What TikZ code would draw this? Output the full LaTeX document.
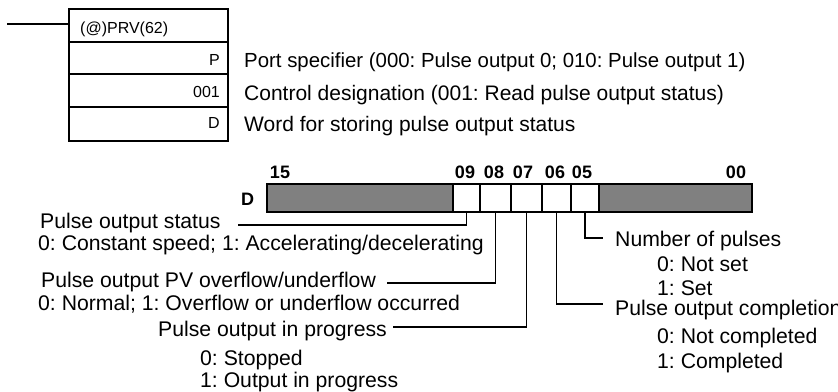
\documentclass[tikz,border=0pt]{standalone}
\usepackage{fontspec}
\setmainfont{Liberation Sans}
\frenchspacing
\begin{document}
\frenchspacing
\begin{tikzpicture}[x=1pt,y=-1pt,
  box/.style={draw, line width=1.6pt, minimum width=159pt, anchor=north west, inner sep=0pt, outer sep=0pt},
  boxlbl/.style={font=\fontsize{16}{19}\selectfont, inner sep=0pt},
  desc/.style={font=\fontsize{21.2}{25}\selectfont, anchor=base west, inner sep=0pt},
  topdesc/.style={desc, font=\fontsize{21}{25}\selectfont},
  bitnum/.style={font=\bfseries\fontsize{18}{21}\selectfont, anchor=base, inner sep=0pt},
  regcell/.style={draw, line width=1.3pt, minimum height=28pt, anchor=north west, inner sep=0pt, outer sep=0pt},
  lead/.style={line width=1.8pt}]
\useasboundingbox (0,0) rectangle (838,391);

% instruction box
\node[box, minimum height=33pt] (r0) at (69,9) {};
\node[box, minimum height=32pt] (r1) at (69,42) {};
\node[box, minimum height=33pt] (r2) at (69,74) {};
\node[box, minimum height=34pt] (r3) at (69,107) {};
\node[boxlbl, anchor=base west] (t0) at (80,33) {(@)PRV(62)};
\node[boxlbl, anchor=base east] (t1) at (220,65) {P};
\node[boxlbl, anchor=base east] (t2) at (220,97) {001};
\node[boxlbl, anchor=base east] (t3) at (220,128) {D};
\coordinate (inl) at (7,24);
\draw[lead] (inl) -- (inl -| r0.west);

\node[topdesc, font=\fontsize{20.4}{25}\selectfont] (d1) at (244,67) {Port specifier (000: Pulse output 0; 010: Pulse output 1)};
\node[topdesc] (d2) at (244,100) {Control designation (001: Read pulse output status)};
\node[topdesc] (d3) at (244,131) {Word for storing pulse output status};

% register
\node[regcell, fill=black!50, minimum width=186pt] (g1) at (267,184) {};
\node[regcell, fill=white, minimum width=27pt] (c09) at (453,184) {};
\node[regcell, fill=white, minimum width=31pt] (c08) at (480,184) {};
\node[regcell, fill=white, minimum width=31pt] (c07) at (511,184) {};
\node[regcell, fill=white, minimum width=29pt] (c06) at (542,184) {};
\node[regcell, fill=white, minimum width=28pt] (c05) at (571,184) {};
\node[regcell, fill=black!50, minimum width=153pt] (g2) at (599,184) {};

\node[bitnum] (n15) at (280,178) {15};
\node[bitnum] (n09) at (465,178) {09};
\node[bitnum] (n08) at (494,178) {08};
\node[bitnum] (n07) at (523,178) {07};
\node[bitnum] (n06) at (555,178) {06};
\node[bitnum] (n05) at (582,178) {05};
\node[bitnum] (n00) at (736,178) {00};
\node[bitnum, anchor=base west] (regD) at (241,205) {D};

% leader lines
\coordinate (e09) at (238,225);
\coordinate (e08) at (387,283);
\coordinate (e07) at (393,327);
\coordinate (e06) at (603,304);
\coordinate (e05) at (603,238);
\draw[lead] (c09.south) |- (e09);
\draw[lead] (c08.south) |- (e08);
\draw[lead] (c07.south) |- (e07);
\draw[lead] (c06.south) |- (e06);
\draw[lead] (c05.south) |- (e05);

% left descriptions
\node[desc] (l1) at (40,228) {Pulse output status};
\node[desc] (l2) at (38,250) {0: Constant speed; 1: Accelerating/decelerating};
\node[desc] (l3) at (41,287) {Pulse output PV overflow/underflow};
\node[desc] (l4) at (38,310) {0: Normal; 1: Overflow or underflow occurred};
\node[desc] (l5) at (158,336) {Pulse output in progress};
\node[desc] (l6) at (200,365) {0: Stopped};
\node[desc] (l7) at (200,387) {1: Output in progress};

% right descriptions
\node[desc] (q1) at (615,246) {Number of pulses};
\node[desc] (q2) at (657,271) {0: Not set};
\node[desc] (q3) at (657,295) {1: Set};
\node[desc] (q4) at (615,315) {Pulse output completion};
\node[desc] (q5) at (657,343) {0: Not completed};
\node[desc] (q6) at (657,368) {1: Completed};
\end{tikzpicture}
\end{document}
